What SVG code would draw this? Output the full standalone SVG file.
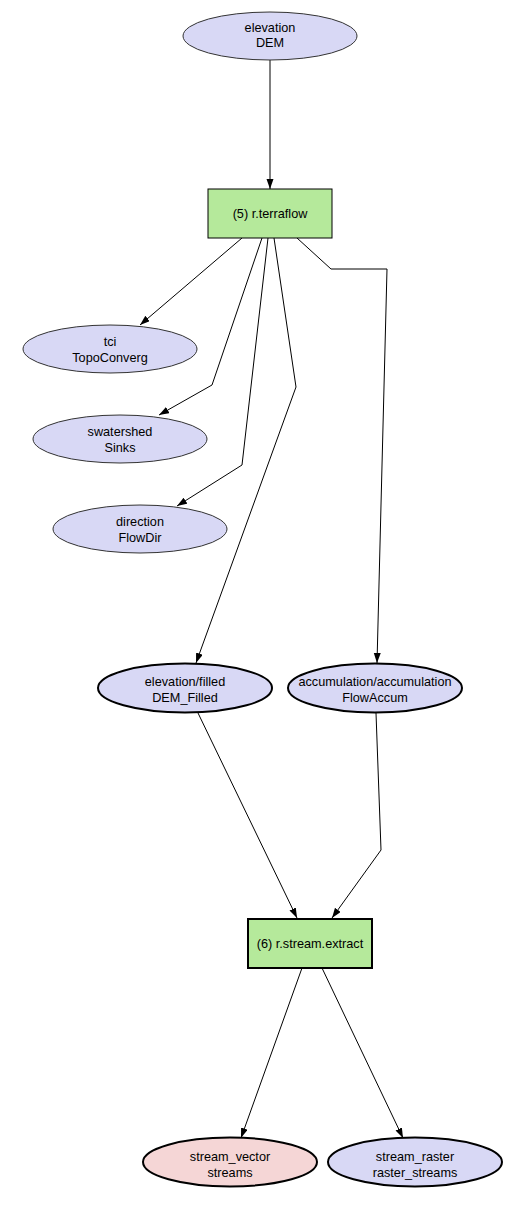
<svg xmlns="http://www.w3.org/2000/svg" width="529" height="1225" viewBox="0 0 529 1225">
<style>
text{font-family:"Liberation Sans",Arial,sans-serif;font-size:12.7px;fill:#000;text-anchor:middle}
.data{fill:#d8d8f5;stroke:#333;stroke-width:1}
.data2{fill:#d8d8f5;stroke:#000;stroke-width:2}
.vec{fill:#f5d6d6;stroke:#000;stroke-width:2}
.proc{fill:#b5e99b;stroke:#000;stroke-width:1}
.proc2{fill:#b5e99b;stroke:#000;stroke-width:2}
.edge{fill:none;stroke:#000;stroke-width:1;marker-end:url(#arr)}
</style>
<defs>
<marker id="arr" markerUnits="userSpaceOnUse" markerWidth="11" markerHeight="8" refX="10" refY="3.5" orient="auto">
<path d="M0,0 L10,3.5 L0,7 z" fill="#000"/>
</marker>
</defs>
<g id="connectors">
<path class="edge" d="M270,60 L270,189"/>
<path class="edge" d="M242,238 L140,325"/>
<path class="edge" d="M262,238 L212,385 L159,415"/>
<path class="edge" d="M268,238 L242,465 L177,506"/>
<path class="edge" d="M274,238 L296,387 L196,663"/>
<path class="edge" d="M297,238 L331,269 L387,269 L377,663"/>
<path class="edge" d="M198,713 L297,918"/>
<path class="edge" d="M376,713 L381,850 L332,918"/>
<path class="edge" d="M302,968 L241,1138"/>
<path class="edge" d="M322,968 L403,1138"/>
</g>
<g id="elevation_DEM">
<ellipse class="data" cx="270" cy="36" rx="87" ry="24"/>
<text x="270" y="32">elevation</text>
<text x="270" y="47">DEM</text>
</g>
<g id="r_terraflow">
<rect class="proc" x="208" y="189" width="124" height="49"/>
<text x="270" y="218">(5) r.terraflow</text>
</g>
<g id="tci_TopoConverg">
<ellipse class="data" cx="110" cy="349" rx="87" ry="24"/>
<text x="110" y="346">tci</text>
<text x="110" y="362">TopoConverg</text>
</g>
<g id="swatershed_Sinks">
<ellipse class="data" cx="120" cy="439" rx="87" ry="24"/>
<text x="120" y="436">swatershed</text>
<text x="120" y="452">Sinks</text>
</g>
<g id="direction_FlowDir">
<ellipse class="data" cx="140" cy="529" rx="87" ry="24"/>
<text x="140" y="526">direction</text>
<text x="140" y="542">FlowDir</text>
</g>
<g id="elevation_filled">
<ellipse class="data2" cx="185" cy="688" rx="87" ry="24.5"/>
<text x="185" y="686">elevation/filled</text>
<text x="185" y="702">DEM_Filled</text>
</g>
<g id="accumulation_FlowAccum">
<ellipse class="data2" cx="375" cy="688" rx="87" ry="24.5"/>
<text x="375" y="686">accumulation/accumulation</text>
<text x="375" y="702">FlowAccum</text>
</g>
<g id="r_stream_extract">
<rect class="proc2" x="248" y="919" width="124" height="49"/>
<text x="310" y="948">(6) r.stream.extract</text>
</g>
<g id="stream_vector">
<ellipse class="vec" cx="230" cy="1162" rx="87" ry="24.5"/>
<text x="230" y="1161">stream_vector</text>
<text x="230" y="1177">streams</text>
</g>
<g id="stream_raster">
<ellipse class="data2" cx="415" cy="1162" rx="87" ry="24.5"/>
<text x="415" y="1161">stream_raster</text>
<text x="415" y="1177">raster_streams</text>
</g>
</svg>
